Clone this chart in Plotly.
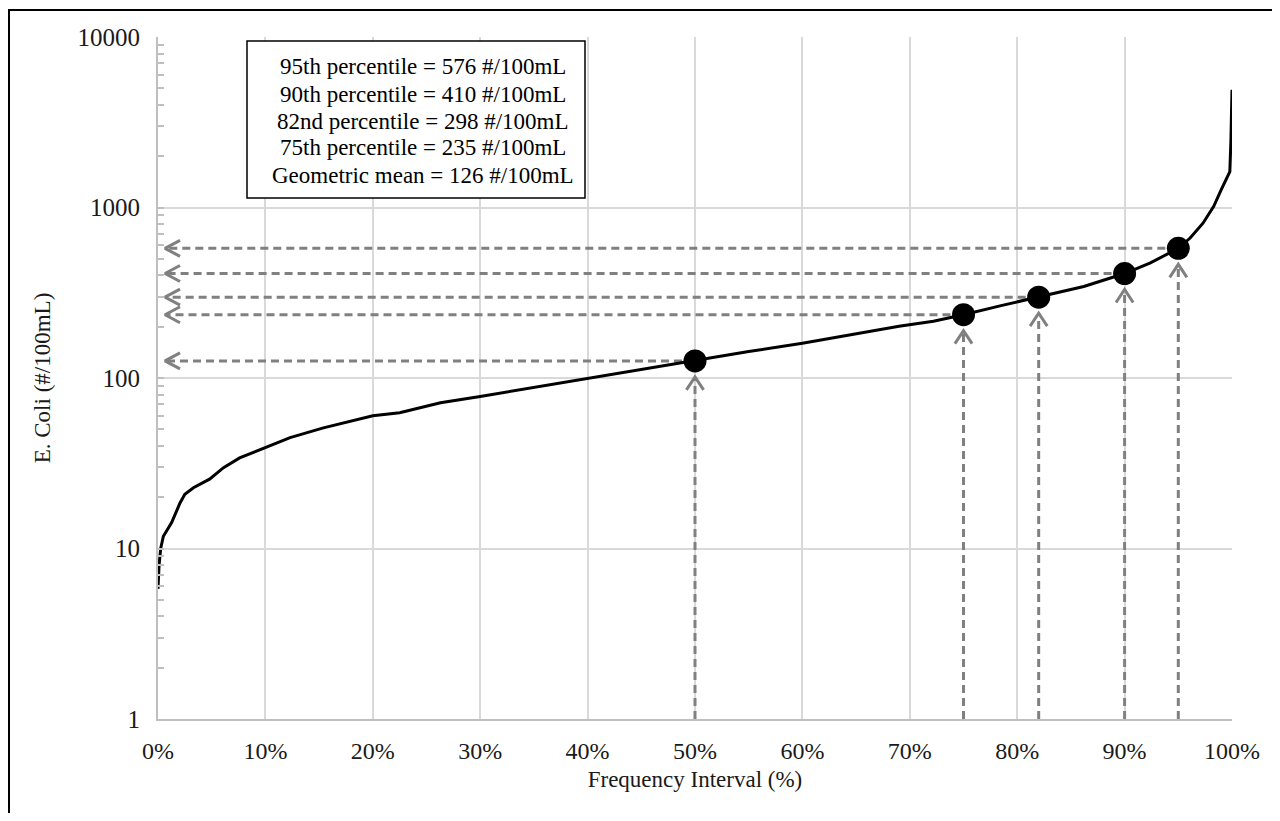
import plotly.graph_objects as go

# ---- data ----
pct = [0, 0.1, 0.25, 0.5, 1.27, 2.05, 2.5, 3.3, 4.8, 6.1, 7.6, 10, 12.3, 15.4, 18, 20,
       22.5, 26.3, 30, 35, 40, 45, 50, 55, 60, 65, 69, 72.2, 75, 78.4, 82, 86.2, 90,
       92.4, 95, 96.1, 97.3, 98.3, 99.0, 99.8, 99.9, 100]
ecoli = [5.8, 8, 10, 11.8, 14.2, 18.5, 20.8, 22.7, 25.5, 29.8, 34, 39, 44.7, 51, 56, 60,
         62.5, 71.6, 78, 88, 100, 112, 126, 143, 160, 182, 201, 215, 235, 265, 298, 344, 410,
         473, 576, 662, 809, 1015, 1271, 1625, 2495, 4900]

pct_marks = [50, 75, 82, 90, 95]
val_marks = [126, 235, 298, 410, 576]

box_lines = [
    "95th percentile = 576 #/100mL",
    "90th percentile = 410 #/100mL",
    "82nd percentile = 298 #/100mL",
    "75th percentile = 235 #/100mL",
    "Geometric mean = 126 #/100mL",
]

x_ticks = [0, 10, 20, 30, 40, 50, 60, 70, 80, 90, 100]
y_ticks = [1, 10, 100, 1000, 10000]

FONT = "Liberation Serif"
GRAY = "#808080"
TXT = "#1a1a1a"

# figure geometry (page has an 8px body margin)
W, H = 1264, 805
ML, MT, MR, MB = 150, 29, 40, 94
PW, PH = W - ML - MR, H - MT - MB


def px_x(fx):
    return (fx - ML) / PW


def px_y(fy):
    return 1 - (fy - MT) / PH


fig = go.Figure()

dash_line = dict(color=GRAY, width=3, dash="8px,5px")
head_line = dict(color=GRAY, width=3)

h_tip = 0.65      # x position (%) of horizontal arrow tips
h_back = 1.4      # chevron depth (%)
h_spread = 10 ** (8 / 170.75)
v_gap = 10 ** (16 / 170.75)
v_back = 10 ** (13 / 170.75)
v_spread = 0.8

for p, v in zip(pct_marks, val_marks):
    fig.add_trace(go.Scatter(x=[p, h_tip], y=[v, v], mode="lines", line=dash_line,
                             hoverinfo="skip", showlegend=False))
    fig.add_trace(go.Scatter(x=[h_tip + h_back, h_tip, h_tip + h_back],
                             y=[v * h_spread, v, v / h_spread], mode="lines",
                             line=head_line, hoverinfo="skip", showlegend=False,
                             cliponaxis=False))
    tip = v / v_gap
    fig.add_trace(go.Scatter(x=[p, p], y=[1, tip], mode="lines", line=dash_line,
                             hoverinfo="skip", showlegend=False))
    fig.add_trace(go.Scatter(x=[p - v_spread, p, p + v_spread],
                             y=[tip / v_back, tip, tip / v_back], mode="lines",
                             line=head_line, hoverinfo="skip", showlegend=False))

fig.add_trace(go.Scatter(x=pct, y=ecoli, mode="lines", line=dict(color="black", width=3),
                         showlegend=False, cliponaxis=False))
fig.add_trace(go.Scatter(x=pct_marks, y=val_marks, mode="markers",
                         marker=dict(color="black", size=23), showlegend=False,
                         cliponaxis=False))

# text box
fig.add_shape(type="rect", xref="paper", yref="paper",
              x0=px_x(239), x1=px_x(577), y0=px_y(190), y1=px_y(33),
              line=dict(color="black", width=1.5), fillcolor="white", layer="above")
for i, line in enumerate(box_lines):
    fig.add_annotation(x=px_x(414.5), y=px_y(59 + 27 * i), xref="paper", yref="paper",
                       xanchor="center", yanchor="middle", text=line, showarrow=False,
                       font=dict(family=FONT, size=23, color="black"))

# outer frame (cut at right and bottom like the reference)
fig.add_shape(type="rect", xref="paper", yref="paper",
              x0=px_x(1), x1=1.2, y0=-0.3, y1=px_y(2),
              line=dict(color="black", width=2), fillcolor="rgba(0,0,0,0)", layer="below")

fig.update_layout(
    width=W, height=H,
    margin=dict(l=ML, r=MR, t=MT, b=MB),
    paper_bgcolor="white", plot_bgcolor="white",
    font=dict(family=FONT, size=24, color=TXT),
    xaxis=dict(
        range=[0, 100], tickvals=x_ticks, ticktext=[f"{t}%" for t in x_ticks],
        showgrid=True, gridcolor="#d9d9d9", gridwidth=1.5,
        showline=True, linecolor="#bfbfbf", linewidth=2,
        ticks="", ticklabelstandoff=9, zeroline=False,
        title=dict(text="Frequency Interval (%)", standoff=8,
                   font=dict(family=FONT, size=23, color=TXT)),
        tickfont=dict(family=FONT, size=24, color=TXT),
    ),
    yaxis=dict(
        type="log", range=[0, 4], tickvals=y_ticks, ticktext=[str(t) for t in y_ticks],
        showgrid=True, gridcolor="#d9d9d9", gridwidth=1.5,
        showline=True, linecolor="#bfbfbf", linewidth=2,
        ticks="inside", ticklen=6, tickcolor="#bfbfbf", tickwidth=1.5,
        ticklabelstandoff=11,
        minor=dict(ticks="inside", ticklen=6, tickcolor="#bfbfbf", tickwidth=1.5,
                   dtick="D1", showgrid=False),
        title=dict(text="E. Coli (#/100mL)", standoff=20,
                   font=dict(family=FONT, size=23, color=TXT)),
        tickfont=dict(family=FONT, size=25, color=TXT),
    ),
)

fig.write_html("out.html")
